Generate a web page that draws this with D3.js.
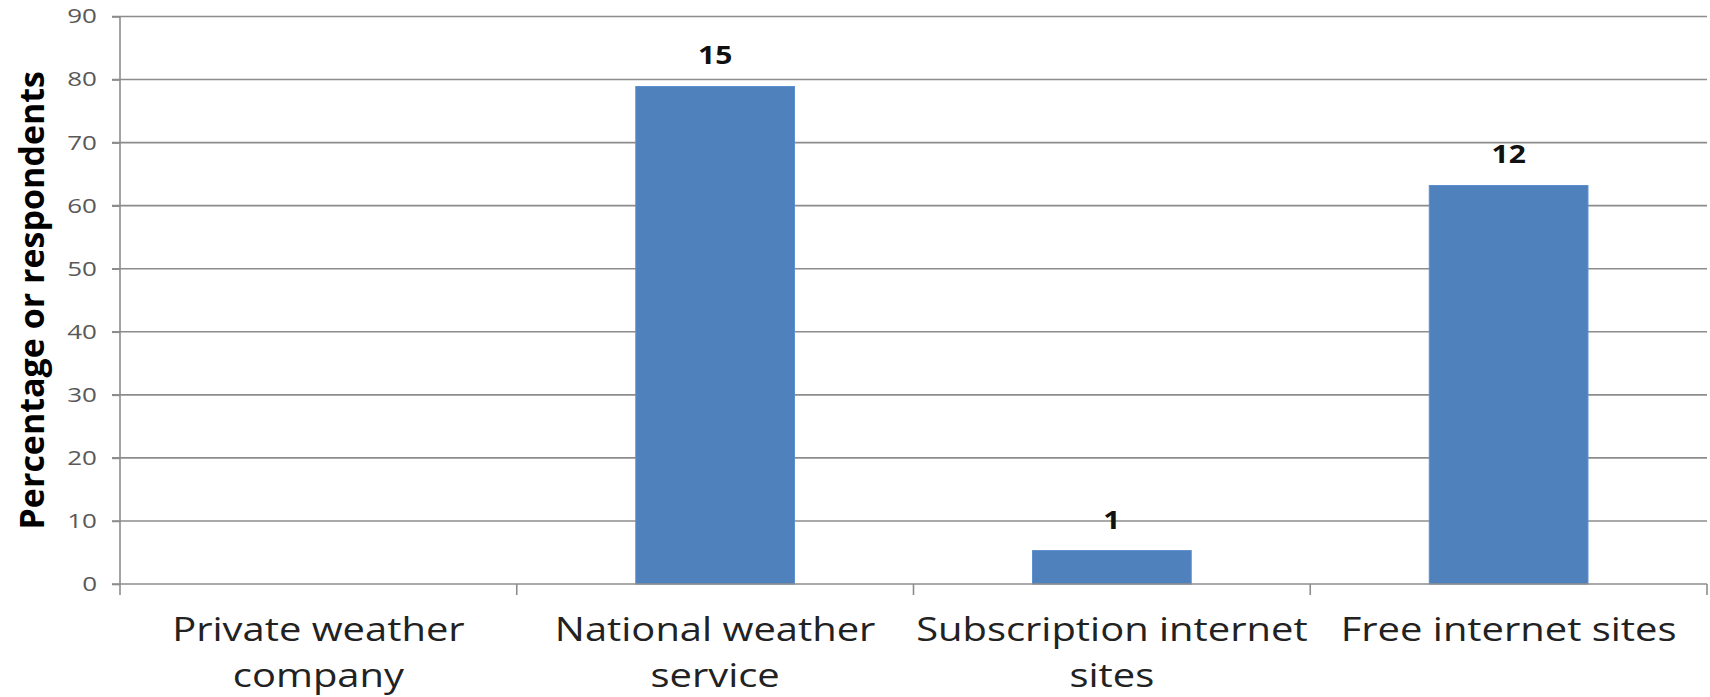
<!DOCTYPE html>
<html>
<head>
<meta charset="utf-8">
<script src="https://cdn.jsdelivr.net/npm/d3@7"></script>
<style>
  body { margin: 0; background: #fff; }
  svg { display: block; font-family: "Open Sans", sans-serif; }
</style>
</head>
<body>
<svg id="Chart"></svg>
<script>
// data
let categories = ["Private weather company", "National weather service", "Subscription internet sites", "Free internet sites"]
let categoryLines = [["Private weather", "company"], ["National weather", "service"], ["Subscription internet", "sites"], ["Free internet sites"]]
let percentages = [0, 78.9, 5.3, 63.2]
let respondents = [null, 15, 1, 12]
let yTicks = [0, 10, 20, 30, 40, 50, 60, 70, 80, 90]

// the original picture is stretched sideways, so text is widened a bit
let stretch = 1.2

function getChartConfig(){
    let width = 1710
    let height = 697
    let margin = { top: 16.5, bottom: 113, left: 120, right: 3 }
    let bodyHeight = height - margin.top - margin.bottom
    let bodyWidth = width - margin.left - margin.right
    let container = d3.select("#Chart").attr("width", width).attr("height", height)
    return { width, height, margin, bodyHeight, bodyWidth, container }
}

function getScales(config){
    let { bodyWidth, bodyHeight } = config
    let xScale = d3.scaleBand()
        .range([0, bodyWidth])
        .domain(categories)
        .paddingInner(0.6)
        .paddingOuter(0.3)
    let yScale = d3.scaleLinear()
        .range([bodyHeight, 0])
        .domain([0, 90])
    return { xScale, yScale }
}

function drawGrid(scales, config){
    let { yScale } = scales
    let { container, margin, bodyWidth } = config
    let body = container.append("g")
        .attr("transform", `translate(${margin.left},${margin.top})`)
    body.selectAll(".grid").data(yTicks.filter(t => t > 0))
        .enter().append("line")
        .attr("x1", -8)
        .attr("x2", bodyWidth)
        .attr("y1", d => yScale(d))
        .attr("y2", d => yScale(d))
        .attr("stroke", "#8c8c8c")
        .attr("stroke-width", 1.6)
}

function drawBars(scales, config){
    let { xScale, yScale } = scales
    let { container, margin } = config
    let body = container.append("g")
        .attr("transform", `translate(${margin.left},${margin.top})`)

    let data = categories.map((c, i) => ({ cat: c, pct: percentages[i], n: respondents[i] }))

    body.selectAll(".bar").data(data.filter(d => d.pct > 0))
        .enter().append("rect")
        .attr("x", d => xScale(d.cat))
        .attr("y", d => yScale(d.pct))
        .attr("width", xScale.bandwidth())
        .attr("height", d => yScale(0) - yScale(d.pct))
        .attr("fill", "#4f81bd")
        .attr("stroke", "#5b8fcf")
        .attr("stroke-width", 1)

    body.selectAll(".label").data(data.filter(d => d.n !== null))
        .enter().append("text")
        .attr("transform", d => `translate(${xScale(d.cat) + xScale.bandwidth() / 2},${yScale(d.pct) - 22}) scale(${stretch},1)`)
        .attr("text-anchor", "middle")
        .attr("font-size", 25)
        .attr("font-weight", "bold")
        .attr("fill", "#111")
        .text(d => d.n)
}

function drawAxes(scales, config){
    let { xScale, yScale } = scales
    let { container, margin, bodyHeight, bodyWidth } = config

    let axisY = d3.axisLeft(yScale).tickValues(yTicks).tickSize(8).tickPadding(15)
    let gy = container.append("g")
        .attr("transform", `translate(${margin.left},${margin.top})`)
        .call(axisY)
    gy.select(".domain").remove()
    gy.selectAll(".tick line").attr("stroke", "#8c8c8c").attr("stroke-width", 1.6)
    gy.selectAll(".tick text")
        .attr("x", -23 / 1.3)
        .attr("transform", "scale(1.3,1)")
        .attr("font-size", 20)
        .attr("font-family", "Open Sans, sans-serif")
        .attr("fill", "#595959")
    gy.append("line")
        .attr("x1", 0).attr("x2", 0)
        .attr("y1", 0).attr("y2", bodyHeight + 11)
        .attr("stroke", "#8c8c8c").attr("stroke-width", 1.6)

    // category axis: ticks sit between the categories
    let bounds = d3.range(categories.length + 1).map(i => i * bodyWidth / categories.length)
    let gx = container.append("g")
        .attr("transform", `translate(${margin.left},${margin.top + bodyHeight})`)
    gx.append("line")
        .attr("x1", -8).attr("x2", bodyWidth)
        .attr("stroke", "#8c8c8c").attr("stroke-width", 1.6)
    gx.selectAll(".xtick").data(bounds.slice(1))
        .enter().append("line")
        .attr("x1", d => d).attr("x2", d => d)
        .attr("y1", 0).attr("y2", 11)
        .attr("stroke", "#8c8c8c").attr("stroke-width", 1.6)

    gx.selectAll(".xlabel").data(categories)
        .enter().append("text")
        .attr("text-anchor", "middle")
        .attr("font-size", 33)
        .attr("fill", "#222")
        .attr("transform", d => `translate(${xScale(d) + xScale.bandwidth() / 2},0) scale(1.21,1)`)
        .each(function(d, i){
            let t = d3.select(this)
            categoryLines[i].forEach((line, k) => {
                t.append("tspan").attr("x", 0).attr("y", 57 + k * 46).text(line)
            })
        })

    container.append("text")
        .attr("transform", `translate(44,${margin.top + bodyHeight / 2}) rotate(-90)`)
        .attr("text-anchor", "middle")
        .attr("font-size", 34)
        .attr("font-weight", "bold")
        .attr("fill", "#000")
        .text("Percentage or respondents")
}

let config = getChartConfig()
let scales = getScales(config)
drawGrid(scales, config)
drawBars(scales, config)
drawAxes(scales, config)
</script>
</body>
</html>
